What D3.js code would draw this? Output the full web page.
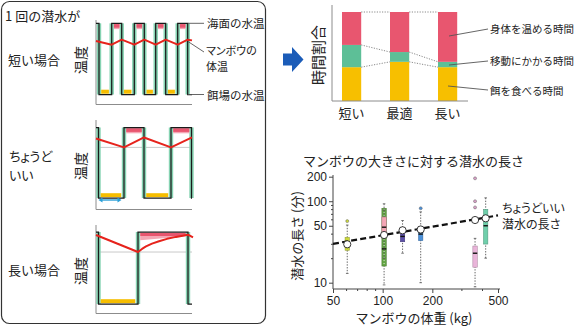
<!DOCTYPE html>
<html><head><meta charset="utf-8">
<script src="https://cdn.jsdelivr.net/npm/d3@7"></script>
<style>
body{margin:0;background:#fff}
svg{display:block;font-family:"Noto Sans CJK JP",sans-serif;color:#222}
</style></head><body>
<svg id="c" width="580" height="326"></svg>
<script>
// ---------- dive schematics (time 0..96, temperature 0 = feeding depth, 1 = surface) ----------
const shortSwitch = [3, 15.7, 25.7, 38.3, 48.3, 59.7, 69.7, 81.7, 91.7];
const justSwitch  = [2.5, 28, 48, 75, 95.5];
const longSwitch  = [2.5, 42, 92];

const shortBodyT = [0, 15.7, 25.7, 38.3, 48.3, 59.7, 69.7, 81.7, 91.7, 96];
const shortBodyV = [0.75, 0.70, 0.77, 0.70, 0.77, 0.70, 0.77, 0.70, 0.77, 0.76];
const justBodyT  = [0, 28, 48, 75, 96];
const justBodyV  = [0.845, 0.718, 0.859, 0.718, 0.859];
const longBodyT  = [0, 42, 46, 50, 56, 63, 71, 80, 92, 97];
const longBodyV  = [0.958, 0.722, 0.765, 0.80, 0.838, 0.872, 0.905, 0.932, 0.962, 0.924];

// ---------- share of time per dive ----------
const ratioCats = ['短い', '最適', '長い'];
const feedShare = [0.38, 0.44, 0.38];
const moveShare = [0.25, 0.11, 0.06];
const warmShare = [0.37, 0.45, 0.56];

// ---------- dive length vs body mass ----------
const boxMass   = [61, 102, 102, 132, 170, 363, 421];
const boxLow    = [13, 9.4, 20, 23, 10, 8.9, 20];
const boxQ1     = [25, 16, 38.5, 31.8, 32.8, 15.5, 29.8];
const boxMedian = [29.8, 26, 48, 37, 39.5, 23, 50];
const boxQ3     = [36, 82, 64, 41.2, 44.2, 28.2, 79.6];
const boxHigh   = [51, 93, 78, 58, 74, 35, 110];
const boxColor  = ['#cbd93c', '#62a443', '#f4a5b5', '#5b4fa7', '#4b90d9', '#e9b4d9', '#6fcfab'];
const outlierMass    = [61, 170, 363, 363, 363];
const outlierMinutes = [57, 82, 191, 100, 84];
const outlierColor   = ['#cbd93c', '#4b90d9', '#d9a0c8', '#d9a0c8', '#d9a0c8'];
const optimalMass    = [61, 102, 132, 170, 363, 421];
const optimalMinutes = [29.6, 38.5, 44, 45, 58.8, 61.7];
const trendMass    = [50, 500];
const trendMinutes = [30, 67];
const xTicksMajor = [50, 100, 200, 500];
const xTicksMinor = [60, 70, 80, 90, 300, 400];
const yTicksMajor = [10, 50, 100, 200];
const yTicksMinor = [20, 30, 40, 60, 70, 80, 90];

const COL = {wave:'#1a1a1a', move:'#86d3b2', warm:'#e8566f', warmLight:'#f5a6b4',
             feed:'#f6bd00', body:'#e6231c', axis:'#8c8c8c', ref:'#c9c9c9', text:'#222'};
const svg = d3.select('#c');
const NUM = '"Liberation Sans", Arial, sans-serif';

function txt(g, s, x, y, size, opt = {}) {
  return g.append('text').attr('x', x).attr('y', y).attr('font-size', size)
    .attr('fill', COL.text).attr('text-anchor', opt.anchor || 'start')
    .style('font-feature-settings', opt.palt ? '"palt"' : null)
    .attr('font-family', opt.num ? NUM : null).text(s);
}

// ---------- left frame ----------
const left = svg.append('g');
left.append('rect').attr('x', 1.5).attr('y', 1.5).attr('width', 264).attr('height', 322)
  .attr('rx', 8).attr('fill', 'none').attr('stroke', '#333').attr('stroke-width', 1.2);
txt(left, '1 回の潜水が', 5, 21, 13);
txt(left, '短い場合', 8, 65, 13);
txt(left, 'ちょうど', 9, 161, 13, {palt: true});
txt(left, 'いい', 9, 180, 13, {palt: true});
txt(left, '長い場合', 8, 275, 13);

const tx = d3.scaleLinear().domain([0, 96]).range([96, 192]);

function drawDive(cfg) {
  const g = svg.append('g');
  const y = d3.scaleLinear().domain([0, 1]).range([cfg.bottom, cfg.top]);
  const times = [0, ...cfg.switches, 96];
  const segs = d3.range(times.length - 1).map(i => ({t0: times[i], t1: times[i + 1], surface: i % 2 === 0}));

  g.append('line').attr('x1', 96).attr('x2', 96).attr('y1', cfg.axisTop).attr('y2', cfg.axisBottom)
    .attr('stroke', COL.axis).attr('stroke-width', 1);
  g.append('line').attr('x1', 96).attr('x2', 192).attr('y1', cfg.axisBottom).attr('y2', cfg.axisBottom)
    .attr('stroke', COL.axis).attr('stroke-width', 1);
  if (cfg.ref != null) {
    g.append('line').attr('x1', 96).attr('x2', 192).attr('y1', y(cfg.ref)).attr('y2', y(cfg.ref))
      .attr('stroke', COL.ref).attr('stroke-width', 1);
  }

  // transit between surface and feeding depth
  g.selectAll('.mv').data(cfg.switches).join('rect')
    .attr('x', t => tx(t) - 2.2).attr('width', 4.4)
    .attr('y', y(1)).attr('height', y(0) - y(1)).attr('fill', COL.move);

  // feeding time at depth
  g.selectAll('.fd').data(segs.filter(s => !s.surface && s.t1 - s.t0 > 6)).join('rect')
    .attr('x', s => tx(s.t0) + 2.2).attr('width', s => tx(s.t1) - tx(s.t0) - 5)
    .attr('y', y(0) - 4.8).attr('height', 4).attr('fill', COL.feed);

  // warming time at surface
  const warm = segs.filter(s => s.surface && s.t1 - s.t0 > 6);
  if (cfg.wedge) {
    warm.forEach(s => {
      const a = tx(s.t0) + 2.2, b = tx(s.t1) - 2.2, t = y(1) + 0.8;
      g.append('path').attr('d', `M${a},${t + 3}L${b},${t + 3}L${b},${t + 3.5}L${a},${t + 7.5}Z`)
        .attr('fill', COL.warmLight);
      g.append('rect').attr('x', a).attr('width', b - a).attr('y', t).attr('height', 3.2).attr('fill', COL.warm);
    });
  } else {
    g.selectAll('.wl').data(warm).join('rect')
      .attr('x', s => tx(s.t0) + 2.2).attr('width', s => tx(s.t1) - tx(s.t0) - 4.4)
      .attr('y', y(1) + 0.8).attr('height', 5).attr('fill', COL.warmLight);
    g.selectAll('.wd').data(warm).join('rect')
      .attr('x', s => tx(s.t0) + 2.2).attr('width', s => tx(s.t1) - tx(s.t0) - 4.4)
      .attr('y', y(1) + 0.8).attr('height', 3.6).attr('fill', COL.warm);
  }

  // water temperature experienced along the dive
  const pts = segs.flatMap(s => [[s.t0, s.surface ? 1 : 0], [s.t1, s.surface ? 1 : 0]]);
  g.append('path').attr('d', d3.line().x(d => tx(d[0])).y(d => y(d[1]))(pts))
    .attr('fill', 'none').attr('stroke', COL.wave).attr('stroke-width', 1.25);

  // body temperature
  const body = cfg.bodyT.map((t, i) => [t, cfg.bodyV[i]]);
  g.append('path').attr('d', d3.line().x(d => tx(d[0])).y(d => y(d[1]))(body))
    .attr('fill', 'none').attr('stroke', COL.body).attr('stroke-width', 2).attr('stroke-linejoin', 'round');

  g.append('text').attr('transform', `translate(86,${cfg.labelY}) rotate(-90)`)
    .attr('text-anchor', 'middle').attr('font-size', 14).attr('fill', COL.text).text('温度');
  return {g, y};
}

const p1 = drawDive({top: 23.3, bottom: 94.5, axisTop: 20, axisBottom: 104.5, switches: shortSwitch,
  bodyT: shortBodyT, bodyV: shortBodyV, labelY: 60});
const p2 = drawDive({top: 127.5, bottom: 198, axisTop: 120, axisBottom: 209.5, switches: justSwitch,
  bodyT: justBodyT, bodyV: justBodyV, ref: 0.718, labelY: 166});
drawDive({top: 232, bottom: 304, axisTop: 225, axisBottom: 313.5, switches: longSwitch,
  bodyT: longBodyT, bodyV: longBodyV, ref: 0.722, wedge: true, labelY: 271});

// callouts for the short-dive panel
const lead = (g, x1, y1, x2, y2) => g.append('line').attr('x1', x1).attr('y1', y1).attr('x2', x2).attr('y2', y2)
  .attr('stroke', '#555').attr('stroke-width', 0.9);
lead(p1.g, 188, p1.y(1), 204, p1.y(1));
lead(p1.g, 188, 41.5, 204, 52);
lead(p1.g, 188, p1.y(0), 204, p1.y(0));
txt(p1.g, '海面の水温', 207, 28, 11.5);
txt(p1.g, 'マンボウの', 206, 54.5, 11, {palt: true});
txt(p1.g, '体温', 206, 70.5, 11);
txt(p1.g, '餌場の水温', 207, 99.5, 11.5);

// feeding-time arrow in the middle panel
{
  const ay = 200, a = tx(2.5), b = tx(25.5);
  p2.g.append('line').attr('x1', a + 3).attr('x2', b - 3).attr('y1', ay).attr('y2', ay)
    .attr('stroke', '#2a9fd8').attr('stroke-width', 1.4);
  p2.g.append('path').attr('d', `M${a},${ay}l4,-2.5v5Z M${b},${ay}l-4,-2.5v5Z`).attr('fill', '#2a9fd8');
}

// ---------- arrow ----------
svg.append('path').attr('d', 'M283,53.5H292V47L303.5,59.5L292,72V65.5H283Z').attr('fill', '#1b5cb8');

// ---------- stacked time shares ----------
const rows = ratioCats.map((c, i) => ({cat: c, feed: feedShare[i], move: moveShare[i], warm: warmShare[i]}));
const stack = d3.stack().keys(['feed', 'move', 'warm'])(rows);
const bx = d3.scaleBand().domain(ratioCats).range([332.4, 466.8]).paddingInner(0.6).paddingOuter(0.2);
const by = d3.scaleLinear().domain([0, 1]).range([101, 12]);
const bar = svg.append('g');
const stackCol = {feed: '#f7bf00', move: '#5dbf97', warm: '#e8566f'};
stack.forEach(layer => {
  bar.selectAll(null).data(layer).join('rect')
    .attr('x', d => bx(d.data.cat)).attr('width', bx.bandwidth())
    .attr('y', d => by(d[1])).attr('height', d => by(d[0]) - by(d[1]))
    .attr('fill', stackCol[layer.key]);
});
// dotted links between neighbouring bars at each boundary
stack.forEach(layer => {
  for (let i = 0; i < ratioCats.length - 1; i++) {
    bar.append('line')
      .attr('x1', bx(ratioCats[i]) + bx.bandwidth()).attr('y1', by(layer[i][1]))
      .attr('x2', bx(ratioCats[i + 1])).attr('y2', by(layer[i + 1][1]))
      .attr('stroke', '#8a8a8a').attr('stroke-width', 1).attr('stroke-dasharray', '1.2,1.4');
  }
});
bar.append('line').attr('x1', 332).attr('x2', 332).attr('y1', 5).attr('y2', 101).attr('stroke', COL.axis);
bar.append('line').attr('x1', 332).attr('x2', 468).attr('y1', 101).attr('y2', 101).attr('stroke', COL.axis);
ratioCats.forEach(c => txt(bar, c, bx(c) + bx.bandwidth() / 2, 118, 13, {anchor: 'middle'}));
bar.append('text').attr('transform', 'translate(324,55) rotate(-90)').attr('text-anchor', 'middle')
  .attr('font-size', 15).attr('fill', COL.text).text('時間割合');
lead(bar, 449, 36, 488, 29);
lead(bar, 449, 65, 488, 61);
lead(bar, 448, 86, 488, 90);
txt(bar, '身体を温める時間', 490, 32.5, 10.5);
txt(bar, '移動にかかる時間', 490, 65, 10.5);
txt(bar, '餌を食べる時間', 490, 94.5, 10.5);

// ---------- dive length vs body mass ----------
const sc = svg.append('g');
const x = d3.scaleLog().domain([50, 500]).range([333, 498]);
const y = d3.scaleLog().domain([10, 200]).range([282.7, 176.7]);

txt(sc, 'マンボウの大きさに対する潜水の長さ', 303, 165.5, 13);

sc.append('line').attr('x1', 333).attr('x2', 333).attr('y1', 175).attr('y2', 289).attr('stroke', '#444');
sc.append('line').attr('x1', 333).attr('x2', 500).attr('y1', 289).attr('y2', 289).attr('stroke', '#444');

const yAx = sc.append('g').attr('transform', 'translate(333,0)')
  .call(d3.axisLeft(y).tickValues(yTicksMajor).tickSize(4).tickPadding(2).tickFormat(d3.format('d')));
const yAxm = sc.append('g').attr('transform', 'translate(333,0)')
  .call(d3.axisLeft(y).tickValues(yTicksMinor).tickSize(2).tickFormat(''));
const xAx = sc.append('g').attr('transform', 'translate(0,289)')
  .call(d3.axisBottom(x).tickValues(xTicksMajor).tickSize(4).tickPadding(3).tickFormat(d3.format('d')));
const xAxm = sc.append('g').attr('transform', 'translate(0,289)')
  .call(d3.axisBottom(x).tickValues(xTicksMinor).tickSize(2).tickFormat(''));
xAxm.selectAll('text').remove();
yAxm.selectAll('text').remove();
[yAx, yAxm, xAx, xAxm].forEach(a => {
  a.select('.domain').remove();
  a.selectAll('line').attr('stroke', '#444');
  a.selectAll('text').attr('font-size', 12).attr('font-family', NUM).attr('fill', COL.text);
});

sc.append('text').attr('transform', 'translate(302,236) rotate(-90)').attr('text-anchor', 'middle')
  .attr('font-size', 13).attr('fill', COL.text).text('潜水の長さ (分)');
txt(sc, 'マンボウの体重 (kg)', 414, 323, 13, {anchor: 'middle'});

// boxes
const bw = 4.4;
boxMass.forEach((m, i) => {
  const cx = x(m);
  sc.append('line').attr('x1', cx).attr('x2', cx).attr('y1', y(boxHigh[i])).attr('y2', y(boxLow[i]))
    .attr('stroke', '#555').attr('stroke-width', 0.9).attr('stroke-dasharray', '1.4,1.4');
  [boxHigh[i], boxLow[i]].forEach(v => sc.append('line').attr('x1', cx - 1.3).attr('x2', cx + 1.3)
    .attr('y1', y(v)).attr('y2', y(v)).attr('stroke', '#555').attr('stroke-width', 0.8));
  sc.append('rect').attr('x', cx - bw / 2).attr('width', bw)
    .attr('y', y(boxQ3[i])).attr('height', y(boxQ1[i]) - y(boxQ3[i]))
    .attr('fill', boxColor[i]).attr('stroke', d3.color(boxColor[i]).darker(1)).attr('stroke-width', 0.5);
  if (i === 1) {
    sc.append('line').attr('x1', cx).attr('x2', cx).attr('y1', y(boxQ3[i]) + 1).attr('y2', y(boxQ1[i]) - 1)
      .attr('stroke', '#fff').attr('stroke-width', 1).attr('stroke-dasharray', '0.8,2.2');
  }
  sc.append('line').attr('x1', cx - bw / 2).attr('x2', cx + bw / 2)
    .attr('y1', y(boxMedian[i])).attr('y2', y(boxMedian[i])).attr('stroke', '#111').attr('stroke-width', 1.4);
});
outlierMass.forEach((m, i) => sc.append('circle').attr('cx', x(m)).attr('cy', y(outlierMinutes[i])).attr('r', 1.5)
  .attr('fill', outlierColor[i]).attr('stroke', '#666').attr('stroke-width', 0.5));

// optimal dive length trend
sc.append('line').attr('x1', x(trendMass[0])).attr('y1', y(trendMinutes[0]))
  .attr('x2', x(trendMass[1])).attr('y2', y(trendMinutes[1]))
  .attr('stroke', '#111').attr('stroke-width', 2.2).attr('stroke-dasharray', '6,3.2');
optimalMass.forEach((m, i) => sc.append('circle').attr('cx', x(m)).attr('cy', y(optimalMinutes[i])).attr('r', 3.6)
  .attr('fill', '#fff').attr('stroke', '#222').attr('stroke-width', 0.9));

txt(sc, 'ちょうどいい', 502, 213, 12, {palt: true});
txt(sc, '潜水の長さ', 502, 229, 12, {palt: true});
</script></body></html>
